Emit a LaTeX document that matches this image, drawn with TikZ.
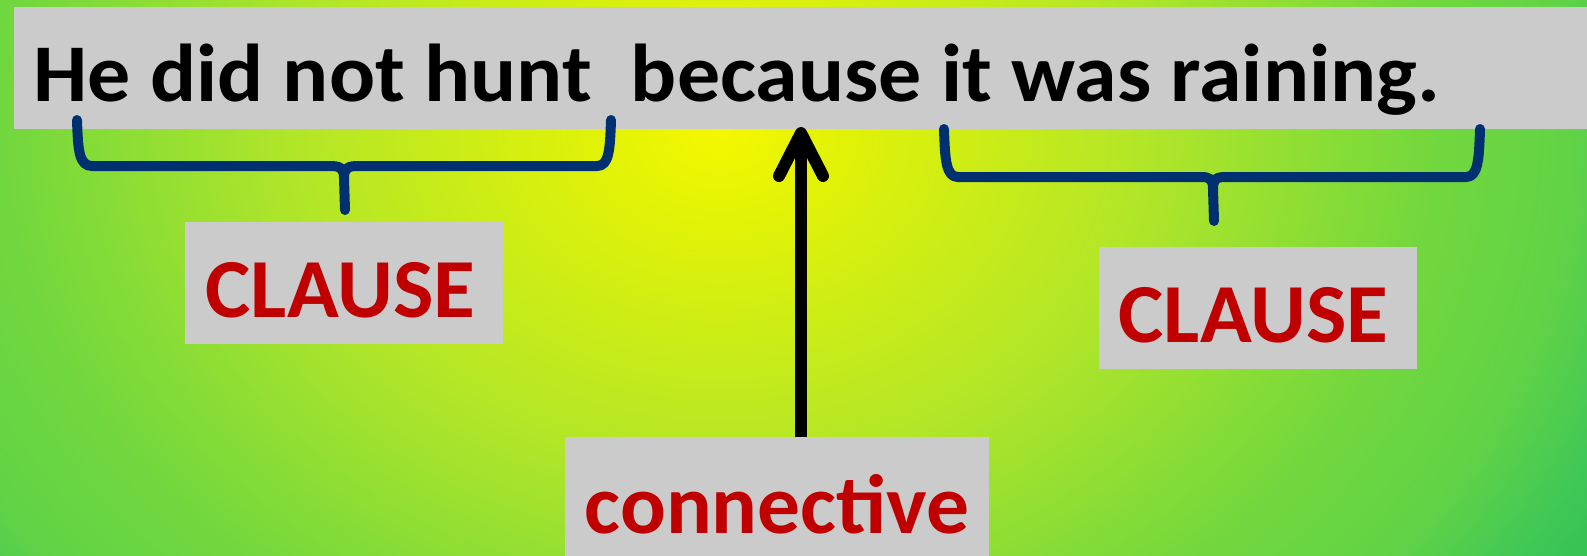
\documentclass[tikz,border=0pt]{standalone}
\usepackage{fontspec}
\setmainfont{Carlito}
\newfontfamily\sentfont{Carlito}[FakeStretch=1.048]
\newfontfamily\labfont{Carlito}[FakeStretch=1.018]
\definecolor{boxgrey}{RGB}{203,203,203}
\definecolor{clred}{RGB}{192,0,0}
\definecolor{braceblue}{RGB}{0,48,112}
\definecolor{bgA}{RGB}{244,248,0}
\definecolor{bgB}{RGB}{228,243,5}
\definecolor{bgC}{RGB}{178,230,40}
\definecolor{bgD}{RGB}{113,215,62}
\definecolor{bgE}{RGB}{98,211,70}
\definecolor{bgF}{RGB}{65,200,85}
\definecolor{bgG}{RGB}{42,191,85}
\pgfdeclareradialshading{bgshade}{\pgfpoint{0bp}{0bp}}{color(0bp)=(bgA); color(2.6bp)=(bgB); color(10.6bp)=(bgC); color(18bp)=(bgD); color(21.2bp)=(bgE); color(23.9bp)=(bgF); color(26.5bp)=(bgG); color(50bp)=(bgG)}
\tikzset{
  greybox/.style={fill=boxgrey, draw=none, inner sep=0pt, anchor=north west},
  bigtext/.style={inner sep=0pt, anchor=base, font=\labfont\fontsize{84}{96}\selectfont\bfseries},
  brace/.style={draw=braceblue, line width=10pt, line cap=round, line join=round},
  arrowline/.style={draw=black, line width=12pt, line cap=round, line join=round}
}
\begin{document}
\begin{tikzpicture}[x=1pt,y=-1pt]
\useasboundingbox (0,0) rectangle (1587,555);
\begin{scope}
\clip (0,0) rectangle (1587,555);
\shade[shading=bgshade] (-280,-670) rectangle (1720,930);
\end{scope}
% grey boxes
\node[greybox, minimum width=1590pt, minimum height=122pt] (bar) at (14,7) {};
\node[greybox, minimum width=318pt, minimum height=122pt] (lbox) at (185,222) {};
\node[greybox, minimum width=318pt, minimum height=122pt] (rbox) at (1099,247) {};
\node[greybox, minimum width=424pt, minimum height=140pt] (cbox) at (565,437) {};
% texts
\node[inner sep=0pt, anchor=base west, font=\sentfont\fontsize{82}{94}\selectfont\bfseries] (sent) at (33,101) {He did not hunt\ \ because it was raining.};
\node[bigtext, text=clred] (ltext) at (340.5,317) {CLAUSE};
\node[bigtext, text=clred] (rtext) at (1253.5,342) {CLAUSE};
\node[bigtext, text=clred] (ctext) at (777,533) {connective};
% braces
\draw[brace] (77,120) .. controls (78,150) and (79,166) .. (92,166) -- (330,166) .. controls (340,166) and (344,168) .. (344,178) -- (345,210);
\draw[brace] (611,120) .. controls (610,150) and (609,166) .. (597,166) -- (358,166) .. controls (348,166) and (344,168) .. (344,178);
\draw[brace] (944,129) .. controls (945,160) and (946,177) .. (958,177) -- (1201,177) .. controls (1210,177) and (1213,179) .. (1213,189) -- (1214,221);
\draw[brace] (1480,129) .. controls (1479,160) and (1478,177) .. (1466,177) -- (1226,177) .. controls (1216,177) and (1213,179) .. (1213,189);
% arrow
\coordinate (tip) at (801,133);
\coordinate (barbL) at (779,176);
\coordinate (barbR) at (823,176);
\draw[arrowline, line cap=butt] (tip |- cbox.north) -- (tip);
\draw[arrowline] (barbL) -- (tip) -- (barbR);
\end{tikzpicture}
\end{document}
